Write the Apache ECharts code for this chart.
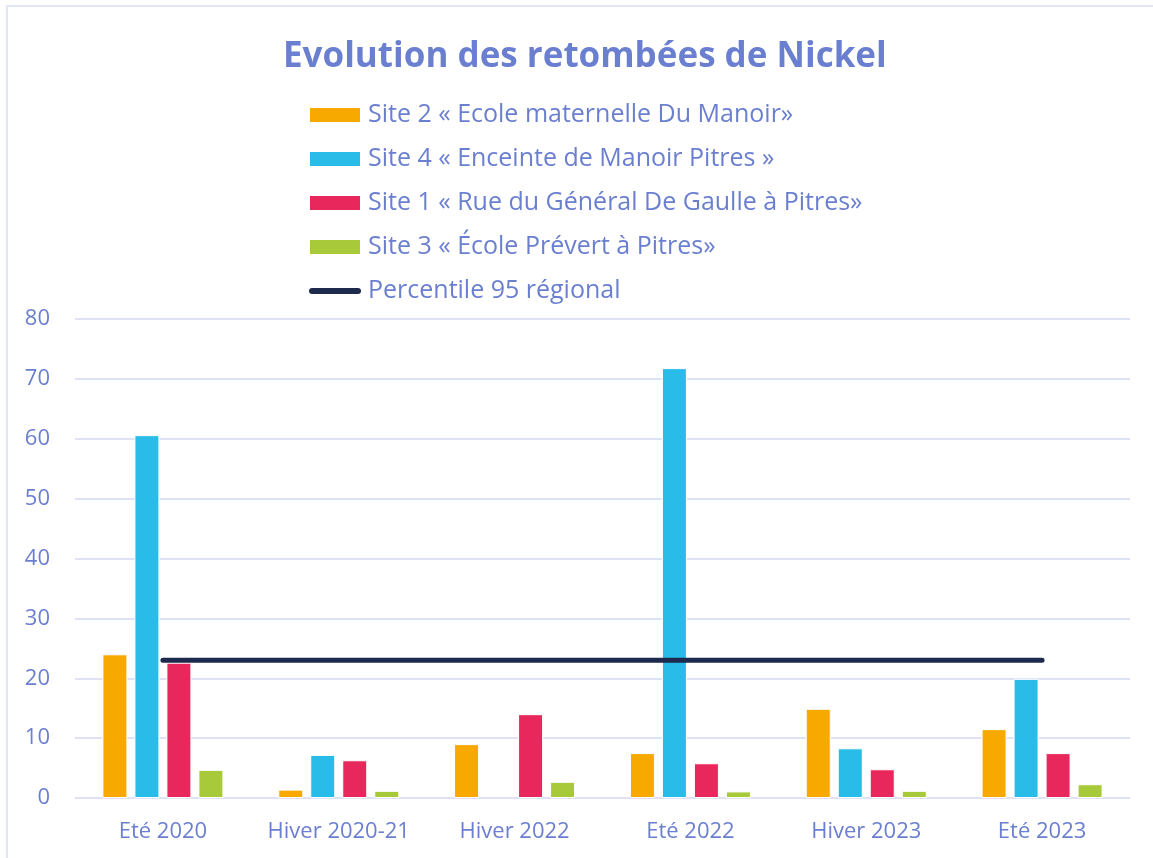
<!DOCTYPE html>
<html><head><meta charset="utf-8">
<script src="https://cdn.jsdelivr.net/npm/echarts@6/dist/echarts.min.js"></script>
<style>
html,body{margin:0;padding:0;background:#fff;}
#frame{position:absolute;left:6px;top:5px;width:1160px;height:870px;border:2px solid #e2e5f3;box-sizing:border-box;}
#chart{position:absolute;left:0;top:0;width:1153px;height:858px;}
</style></head>
<body><div id="frame"></div><div id="chart"></div>
<script>
const categories = ['Eté 2020','Hiver 2020-21','Hiver 2022','Eté 2022','Hiver 2023','Eté 2023'];
const site2 = [24.0, 1.4, 9.0, 7.5, 14.9, 11.5];
const site4 = [60.6, 7.2, null, 71.8, 8.3, 19.9];
const site1 = [22.6, 6.3, 14.0, 5.8, 4.8, 7.5];
const site3 = [4.7, 1.2, 2.7, 1.1, 1.2, 2.3];
const percentile95 = [23, 23, 23, 23, 23, 23];
const names = ['Site 2 « Ecole maternelle Du Manoir»','Site 4 « Enceinte de Manoir Pitres »','Site 1 « Rue du Général De Gaulle à Pitres»','Site 3 « École Prévert à Pitres»','Percentile 95 régional'];
const yTicks = [0,10,20,30,40,50,60,70,80];

const txt = '#6b7fd0';
const font = 'Open Sans';
const lineIcon = 'path://M3,0 H49 A3,3 0 0 1 49,6 H3 A3,3 0 0 1 3,0 Z';
const chart = echarts.init(document.getElementById('chart'));
function bar(name, data, color){
  return {name, type:'bar', data, barWidth:25, barGap:'28%',
    itemStyle:{color, borderColor:'#ffffff', borderWidth:1}};
}
chart.setOption({
  animation:false,
  textStyle:{fontFamily:font},
  title:{text:'Evolution des retombées de Nickel', left:283, top:40, padding:0,
    textStyle:{color:txt, fontSize:35, fontWeight:'bold', fontFamily:font}},
  legend:{orient:'vertical', left:303, top:95, itemGap:14, itemWidth:52, itemHeight:16,
    textStyle:{color:txt, fontSize:25, lineHeight:30, fontFamily:font, padding:[0,0,0,2]},
    data:names.map((n,i)=> i<4 ? {name:n, icon:'rect'} : {name:n, icon:lineIcon})},
  grid:{left:75, right:23, top:319, bottom:60},
  xAxis:{type:'category', data:categories, boundaryGap:true,
    axisLine:{show:false}, axisTick:{show:false},
    axisLabel:{color:txt, fontSize:22, margin:23, interval:0, fontFamily:font}},
  yAxis:{type:'value', min:yTicks[0], max:yTicks[yTicks.length-1], interval:10,
    axisLine:{show:false}, axisTick:{show:false},
    axisLabel:{color:txt, fontSize:22, margin:25, fontFamily:font, align:'right'},
    splitLine:{lineStyle:{color:'#dfe2f5', width:2}}},
  series:[
    bar(names[0], site2, '#f7a900'),
    bar(names[1], site4, '#29bce9'),
    bar(names[2], site1, '#e8285c'),
    bar(names[3], site3, '#a8c93a'),
    {name:names[4], type:'line', data:percentile95, symbol:'none', z:5,
      lineStyle:{color:'#1d2a4d', width:5, cap:'round'}, itemStyle:{color:'#1d2a4d'}}
  ]
});
</script></body></html>
